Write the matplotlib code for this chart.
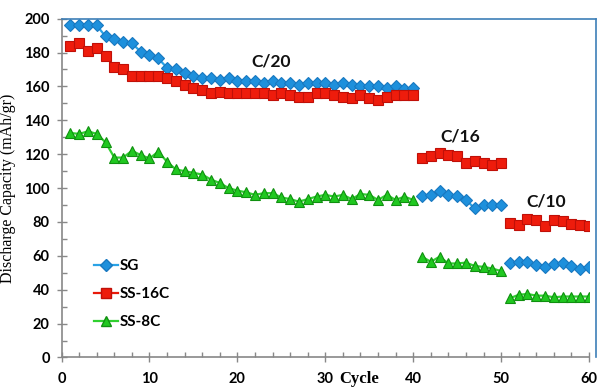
import matplotlib
matplotlib.use("Agg")
import matplotlib.pyplot as plt
from matplotlib.lines import Line2D
from matplotlib.ticker import MultipleLocator

# discharge capacity (mAh/gr) per cycle, three rate segments
seg_cycles = [list(range(1, 41)), list(range(41, 51)), list(range(51, 61))]

sg = [
    [196, 196, 196, 196, 189.5, 188, 186, 185.5, 180.5, 178.5,
     176.5, 171, 170.5, 168, 166, 165, 165, 164, 165, 163,
     163, 163, 162, 163, 162, 162, 161, 162, 162, 162,
     161, 162, 161, 160, 160, 160, 159, 160, 158.5, 159],
    [95.5, 96, 98.5, 96, 95.5, 93, 88, 90, 90, 90],
    [55.5, 56.5, 56.5, 54.5, 53.5, 55, 56, 54, 52, 53.5],
]
ss16c = [
    [184, 185.5, 181, 182.5, 178, 171.5, 170, 166, 166, 166,
     166, 165, 163.5, 161, 159, 158, 156, 157, 156, 156,
     156, 156, 156, 155, 156, 155, 154, 154, 156, 156,
     155, 154, 153, 155, 153, 152, 154, 155, 155, 155],
    [117.5, 119, 120.5, 119.5, 119, 115, 116, 115, 113.5, 115],
    [79.5, 78.5, 81.5, 81, 77.5, 81, 80.5, 79, 78.5, 77.5],
]
ss8c = [
    [132.5, 132, 133.5, 132, 127, 118, 118, 122, 119.5, 117.5,
     121.5, 115.5, 111, 110, 109, 108, 105, 103, 100, 98.5,
     97.5, 96, 97, 97, 94.5, 93.5, 92, 93.5, 95, 96,
     95, 96, 93.5, 96.5, 96, 93, 96, 93, 95, 93],
    [59.5, 56.5, 59.5, 55.5, 55.5, 56, 54, 53.5, 52.5, 51],
    [35, 37, 37.5, 36.5, 36.5, 35.5, 36, 36, 36, 36],
]

rate_labels = ["C/20", "C/16", "C/10"]
rate_pos = [(23.8, 175), (45.4, 130.5), (55.1, 92)]

styles = {
    "SG": dict(marker="D", color="#2aa3e6", mfc="#1e90dc", mec="#1878c0", ms=6),
    "SS-16C": dict(marker="s", color="#e81a0a", mfc="#ee1c0c", mec="#c01008", ms=6.5),
    "SS-8C": dict(marker="^", color="#30d030", mfc="#20c820", mec="#109010", ms=7),
}

fig = plt.figure(figsize=(5.98, 3.89), dpi=100)
ax = fig.add_axes([0.103, 0.081, 0.882, 0.871])

for name, data in [("SG", sg), ("SS-16C", ss16c), ("SS-8C", ss8c)]:
    st = styles[name]
    for xs, ys in zip(seg_cycles, data):
        ax.plot(xs, ys, marker=st["marker"], color=st["color"], lw=1.6,
                ms=st["ms"], mfc=st["mfc"], mec=st["mec"], mew=0.8)

for lab, (x, y) in zip(rate_labels, rate_pos):
    ax.text(x, y, lab, ha="center", va="center", fontsize=12.5,
            fontweight="bold", family="Lato", color="#111111")

ax.set_xlim(0, 60)
ax.set_ylim(0, 200)
ax.xaxis.set_major_locator(MultipleLocator(10))
ax.xaxis.set_minor_locator(MultipleLocator(2))
ax.yaxis.set_major_locator(MultipleLocator(20))
ax.yaxis.set_minor_locator(MultipleLocator(10))
ax.tick_params(which="major", direction="inout", length=7, width=1,
               color="#888888", labelsize=10.5)
ax.tick_params(axis="x", which="major", pad=7)
ax.tick_params(axis="y", which="major", pad=5)
ax.tick_params(which="minor", direction="in", length=3.5, width=1,
               color="#888888")
for lbl in ax.get_xticklabels() + ax.get_yticklabels():
    lbl.set_family("Lato")
    lbl.set_fontweight("bold")

for s in ["top", "right"]:
    ax.spines[s].set_visible(False)
for s in ["left", "bottom"]:
    ax.spines[s].set_color("#888888")
    ax.spines[s].set_linewidth(1.2)

# chart-area frame along top and right
fig.add_artist(Line2D([0.103, 0.997], [0.952, 0.952], color="#3d7fb8", lw=1.2))
fig.add_artist(Line2D([0.997, 0.997], [0.952, 0.081], color="#3d7fb8", lw=1.2))

ax.set_ylabel("Discharge Capacity (mAh/gr)", family="Liberation Serif",
              fontsize=11.5, labelpad=6)
# x label sits between the 30 and 40 tick labels, at the bottom edge
fig.text(0.6, 2 / 389, "Cycle", family="Liberation Serif", fontsize=12,
         fontweight="bold", ha="center", va="bottom")

handles = [Line2D([], [], marker=styles[n]["marker"], color=styles[n]["color"],
                  lw=1.6, ms=styles[n]["ms"], mfc=styles[n]["mfc"],
                  mec=styles[n]["mec"]) for n in ["SG", "SS-16C", "SS-8C"]]
leg = ax.legend(handles, ["SG", "SS-16C", "SS-8C"], loc="upper left",
                bbox_to_anchor=(0.035, 0.33), frameon=False, handlelength=1.6,
                handletextpad=0.1, labelspacing=0.9,
                prop=dict(family="Lato", weight="bold", size=11))

fig.savefig("out.png", dpi=100)
